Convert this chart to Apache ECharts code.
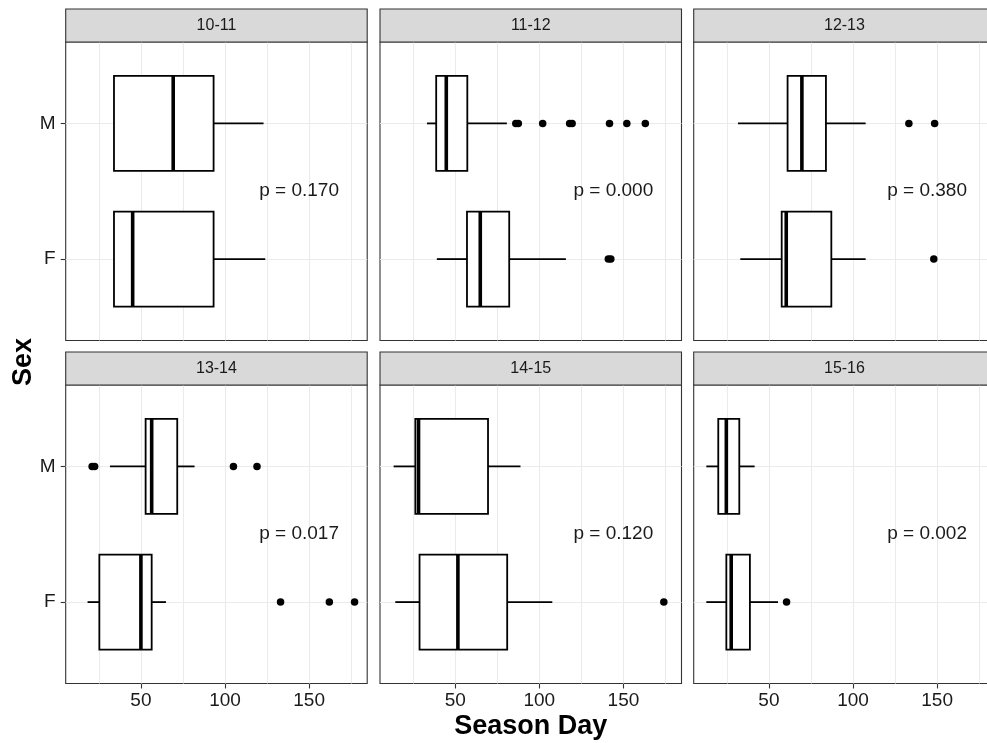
<!DOCTYPE html>
<html>
<head>
<meta charset="utf-8">
<script src="https://cdn.jsdelivr.net/npm/echarts@6/dist/echarts.min.js"></script>
<style>
html,body{margin:0;padding:0;background:#ffffff;}
#chart{width:987px;height:743px;}
</style>
</head>
<body>
<div id="chart"></div>
<script>
// ---------------- data ----------------
const seasons = ['10-11', '11-12', '12-13', '13-14', '14-15', '15-16'];
const sexLabels = { 1: 'F', 2: 'M' };
const sexPos = { F: 1, M: 2 };

// [lower whisker, Q1, median, Q3, upper whisker]
const maleStats = [
  [34.0, 34.0, 69.2, 93.2, 122.9],
  [33.2, 38.7, 44.7, 57.2, 80.7],
  [31.6, 61.1, 69.6, 83.9, 107.5],
  [31.6, 52.8, 56.4, 71.6, 81.9],
  [13.4, 26.3, 28.2, 69.5, 88.8],
  [12.8, 19.9, 24.7, 32.4, 41.5]
];
const femaleStats = [
  [34.0, 34.0, 45.1, 93.2, 123.9],
  [39.1, 57.0, 64.9, 82.1, 115.8],
  [33.0, 57.6, 60.3, 87.1, 107.5],
  [18.3, 25.3, 50.0, 56.4, 64.9],
  [14.4, 28.8, 51.6, 80.9, 107.7],
  [12.8, 24.7, 27.6, 38.7, 55.4]
];
const maleOutliers = [
  [],
  [86, 87.5, 102, 118, 119.5, 141.7, 152, 163],
  [133.2, 148.5],
  [21, 22.5, 105, 119],
  [],
  []
];
const femaleOutliers = [
  [],
  [141, 142.5],
  [148],
  [133, 162, 177],
  [174],
  [60.5]
];
const pValues = ['p = 0.170', 'p = 0.000', 'p = 0.380', 'p = 0.017', 'p = 0.120', 'p = 0.002'];
const pTextX = 144;
const pTextY = 1.5;
const xTickValues = [50, 100, 150];
const xGridValues = [25, 50, 75, 100, 125, 150, 175];
const yTickValues = [1, 2];

// ---------------- layout ----------------
const FONT = 'Liberation Sans, Arial, Helvetica, sans-serif';
const colLeft = [65.7, 380, 693.7];
const rowTop = [42, 385];
const panelW = 301.5;
const panelH = 298.5;
const stripH = 33;
const X_MIN = 5.3, X_MAX = 184.5;
const Y_MIN = 0.4, Y_MAX = 2.6;
const BOX_WIDTH = 0.7;

const grids = [], xAxes = [], yAxes = [], series = [], graphics = [];

function renderBox(params, api) {
  const y = api.value(0);
  const pLo = api.coord([api.value(1), y]);
  const pQ1 = api.coord([api.value(2), y]);
  const pMed = api.coord([api.value(3), y]);
  const pQ3 = api.coord([api.value(4), y]);
  const pHi = api.coord([api.value(5), y]);
  const h = Math.abs(api.size([0, BOX_WIDTH])[1]);
  const cy = pMed[1];
  return {
    type: 'group',
    children: [
      { type: 'line', shape: { x1: pLo[0], y1: cy, x2: pQ1[0], y2: cy }, style: { stroke: '#000', lineWidth: 1.8 } },
      { type: 'line', shape: { x1: pQ3[0], y1: cy, x2: pHi[0], y2: cy }, style: { stroke: '#000', lineWidth: 1.8 } },
      { type: 'rect', shape: { x: pQ1[0], y: cy - h / 2, width: pQ3[0] - pQ1[0], height: h }, style: { fill: '#ffffff', stroke: '#000', lineWidth: 1.8 } },
      { type: 'line', shape: { x1: pMed[0], y1: cy - h / 2, x2: pMed[0], y2: cy + h / 2 }, style: { stroke: '#000', lineWidth: 3.6 } }
    ]
  };
}

const textIdx = {};
function renderText(params, api) {
  const p = api.coord([api.value(0), api.value(1)]);
  return {
    type: 'text',
    x: p[0], y: p[1],
    style: { text: pValues[textIdx[params.seriesIndex]], font: '19px ' + FONT, fill: '#1a1a1a', textAlign: 'center', textVerticalAlign: 'middle' }
  };
}

seasons.forEach(function (season, i) {
  const r = Math.floor(i / 3), c = i % 3;
  const isBottom = r === 1, isLeft = c === 0;
  grids.push({
    left: colLeft[c], top: rowTop[r], width: panelW, height: panelH,
    show: true, backgroundColor: '#ffffff', borderColor: '#333333', borderWidth: 1.1,
    containLabel: false, outerBoundsMode: 'none'
  });
  xAxes.push({
    type: 'value', gridIndex: i, min: X_MIN, max: X_MAX,
    axisLine: { show: false },
    splitLine: { show: false },
    axisTick: { show: isBottom, customValues: xTickValues, length: 5, lineStyle: { color: '#333333', width: 1.1 } },
    axisLabel: { show: isBottom, customValues: xTickValues, fontSize: 19, color: '#1a1a1a', margin: 8, fontFamily: FONT },
    name: (i === 4) ? 'Season Day' : '',
    nameLocation: 'middle', nameGap: 30,
    nameTextStyle: { fontSize: 27, fontWeight: 'bold', color: '#000', fontFamily: FONT }
  });
  yAxes.push({
    type: 'value', gridIndex: i, min: Y_MIN, max: Y_MAX,
    axisLine: { show: false },
    splitLine: { show: false },
    axisTick: { show: isLeft, customValues: yTickValues, length: 5, lineStyle: { color: '#333333', width: 1.1 } },
    axisLabel: { show: isLeft, customValues: yTickValues, fontSize: 19, color: '#1a1a1a', margin: 10, fontFamily: FONT,
      formatter: function (v) { return sexLabels[Math.round(v)] || ''; } }
  });

  // gridlines
  series.push({
    type: 'scatter', xAxisIndex: i, yAxisIndex: i, data: [], silent: true, z: 1,
    markLine: {
      z: 1, silent: true, symbol: ['none', 'none'], animation: false,
      label: { show: false },
      lineStyle: { color: '#EBEBEB', width: 1.1, type: 'solid' },
      emphasis: { disabled: true },
      data: xGridValues.map(function (v) { return { xAxis: v }; })
        .concat(yTickValues.map(function (v) { return { yAxis: v }; }))
    }
  });

  // boxes
  series.push({
    type: 'custom', xAxisIndex: i, yAxisIndex: i, z: 3,
    renderItem: renderBox,
    encode: { x: [1, 2, 3, 4, 5], y: 0 },
    data: [[sexPos.M].concat(maleStats[i]), [sexPos.F].concat(femaleStats[i])]
  });

  // outliers
  series.push({
    type: 'scatter', xAxisIndex: i, yAxisIndex: i, z: 4,
    symbolSize: 7.5, itemStyle: { color: '#000', opacity: 1 },
    data: maleOutliers[i].map(function (v) { return [v, sexPos.M]; })
      .concat(femaleOutliers[i].map(function (v) { return [v, sexPos.F]; }))
  });

  // p-value text
  textIdx[series.length] = i;
  series.push({
    type: 'custom', xAxisIndex: i, yAxisIndex: i, z: 5,
    renderItem: renderText,
    encode: { x: 0, y: 1 },
    data: [[pTextX, pTextY]]
  });

  // strip
  graphics.push({
    type: 'rect', silent: true, z: 10,
    shape: { x: colLeft[c], y: rowTop[r] - stripH, width: panelW, height: stripH },
    style: { fill: '#D9D9D9', stroke: '#333333', lineWidth: 1.1 }
  });
  graphics.push({
    type: 'text', silent: true, z: 11,
    x: colLeft[c] + panelW / 2, y: rowTop[r] - stripH / 2,
    style: { text: season, font: '16px ' + FONT, fill: '#1a1a1a', textAlign: 'center', textVerticalAlign: 'middle' }
  });
});

graphics.push({
  type: 'text', silent: true, z: 11,
  x: 24, y: 362, rotation: Math.PI / 2,
  style: { text: 'Sex', font: 'bold 27px ' + FONT, fill: '#000', textAlign: 'center', textVerticalAlign: 'middle' }
});

const chart = echarts.init(document.getElementById('chart'), null, { renderer: 'canvas' });
chart.setOption({
  animation: false,
  backgroundColor: '#ffffff',
  textStyle: { fontFamily: FONT },
  grid: grids,
  xAxis: xAxes,
  yAxis: yAxes,
  series: series,
  graphic: graphics
});
</script>
</body>
</html>
